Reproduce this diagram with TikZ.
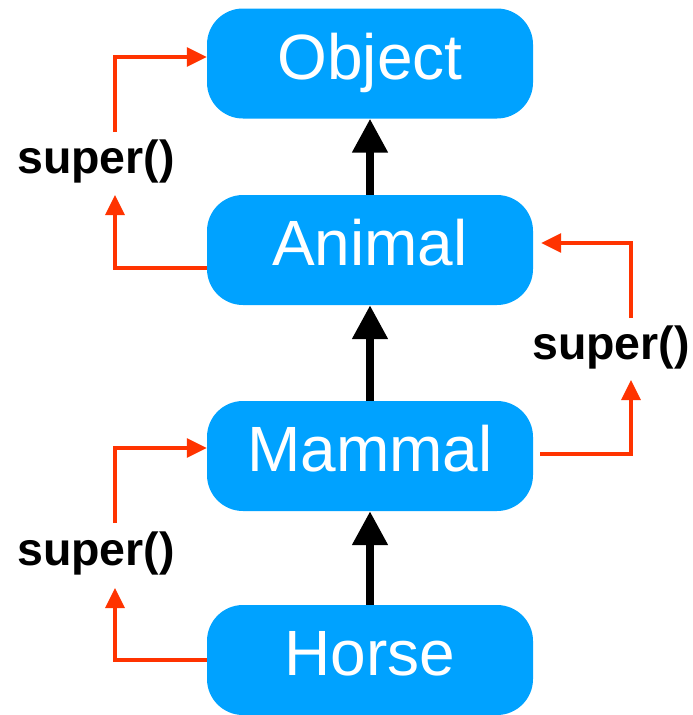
\documentclass[tikz,border=0pt]{standalone}
\usepackage{fontspec}
\setmainfont{Liberation Sans}
\usetikzlibrary{arrows.meta}
\definecolor{boxblue}{RGB}{0,162,255}
\definecolor{callred}{RGB}{255,51,0}
\begin{document}
\begin{tikzpicture}[x=1pt,y=-1pt,
  classbox/.style={draw=none, fill=boxblue, rounded corners=36pt,
    minimum width=326pt, minimum height=110pt, inner sep=0pt,
    text=white, font=\fontsize{64}{64}\selectfont,
    text height=45pt, text depth=14pt},
  inherit/.style={line width=8pt, -{Triangle[width=34pt,length=34pt]}},
  supercall/.style={callred, line width=3.2pt, -{Triangle[width=19pt,length=20pt]}},
  calllabel/.style={anchor=base west, inner sep=0pt,
    font=\fontsize{46.5}{46.5}\selectfont\bfseries}]
\useasboundingbox (0,0) rectangle (693,715);

% class hierarchy
\node[classbox] (object) at (370,63.5) {Object};
\node[classbox] (animal) at (370,250) {Animal};
\node[classbox] (mammal) at (370,456) {Mammal};
\node[classbox] (horse)  at (370,660) {Horse};

\draw[inherit] (animal.north) -- (object.south);
\draw[inherit] (mammal.north) -- (animal.south);
\draw[inherit] (horse.north) -- (mammal.south);

% super() call labels
\node[calllabel] (callA) at (17,173) {super()};
\node[calllabel] (callM) at (532,359) {super()};
\node[calllabel] (callH) at (17,565) {super()};

% turning points of the call paths
\coordinate (a1) at (115,195);
\coordinate (a2) at (115,132);
\coordinate (m1) at (631,380);
\coordinate (m2) at (631,318);
\coordinate (h1) at (115,588);
\coordinate (h2) at (115,523);

% Animal -> Object
\draw[supercall] ([yshift=-18pt]animal.west) -| (a1);
\draw[supercall] (a2) |- ([yshift=6.5pt]object.west);
% Mammal -> Animal
\draw[supercall] ([xshift=7pt,yshift=2pt]mammal.east) -| (m1);
\draw[supercall] (m2) |- ([xshift=8pt,yshift=7pt]animal.east);
% Horse -> Mammal
\draw[supercall] (horse.west) -| (h1);
\draw[supercall] (h2) |- ([yshift=8pt]mammal.west);
\end{tikzpicture}
\end{document}
